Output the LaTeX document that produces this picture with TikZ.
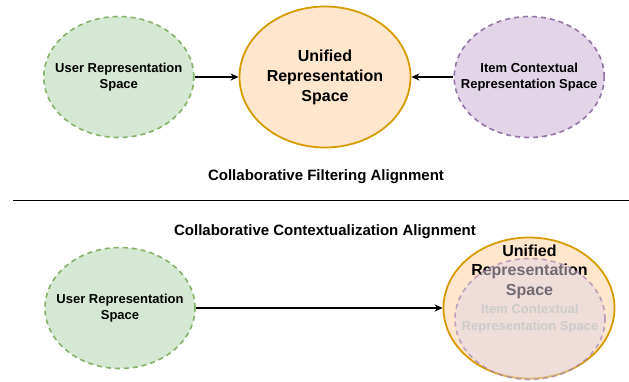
\documentclass[tikz,border=0pt]{standalone}
\usepackage{fontspec}
\setmainfont{Liberation Sans}
\usetikzlibrary{arrows.meta,positioning,shapes.geometric}

\definecolor{usefill}{HTML}{D5E8D4}
\definecolor{usedraw}{HTML}{82B366}
\definecolor{unifill}{HTML}{FFE6CC}
\definecolor{unidraw}{HTML}{D79B00}
\definecolor{itefill}{HTML}{E1D5E7}
\definecolor{itedraw}{HTML}{9673A6}

\tikzset{
  space/.style={ellipse,minimum width=150pt,minimum height=121pt,align=center,
    font=\fontsize{13}{16.5}\selectfont\bfseries,inner xsep=-20pt,inner ysep=0pt},
  userspace/.style={space,fill=usefill,draw=usedraw,line width=1.6pt,dash pattern=on 5pt off 4pt},
  itemspace/.style={space,fill=itefill,draw=itedraw,line width=1.6pt,dash pattern=on 5pt off 4pt},
  unispace/.style={space,fill=unifill,draw=unidraw,line width=1.8pt,minimum width=171pt,minimum height=141pt,
    font=\fontsize{16}{20}\selectfont\bfseries},
  headline/.style={font=\fontsize{15}{18}\selectfont\bfseries},
  link/.style={->,line width=1.4pt}
}

\begin{document}
\begin{tikzpicture}[x=1pt,y=-1pt,>={Stealth[length=8pt,width=7pt]},node distance=43pt]
  \useasboundingbox (0,0) rectangle (629,381);

  % upper half
  \node[unispace] (uni1) at (325,77) {Unified\\Representation\\Space};
  \node[userspace] (user1) [left=44pt of uni1] {User Representation\\Space};
  \node[itemspace] (item1) [right=42pt of uni1] {Item Contextual\\Representation Space};
  \node[headline] (cfa) at (326,177) {Collaborative Filtering Alignment};

  \path[link] (user1) edge (uni1)
              (item1) edge (uni1);

  % separator
  \coordinate (sepL) at (13,200.5);
  \coordinate (sepR) at (629,200.5);
  \draw[line width=1.6pt] (sepL) -- (sepR);

  % lower half
  \node[headline] (cca) at (325,232) {Collaborative Contextualization Alignment};
  \node[userspace] (user2) at (120,308) {User Representation\\Space};
  \node[unispace] (uni2) at (529,308) {};
  \node[font=\fontsize{16}{19.5}\selectfont\bfseries,align=center] (unitext) at (529.5,271.5) {Unified\\Representation\\Space};
  \node[itemspace,font=\fontsize{13}{17}\selectfont\bfseries,fill opacity=0.5,draw opacity=0.6,text=black!20,text opacity=1]
    (item2) at (530,319) {Item Contextual\\Representation Space};

  \draw[link] (user2) -- (uni2);
\end{tikzpicture}
\end{document}
